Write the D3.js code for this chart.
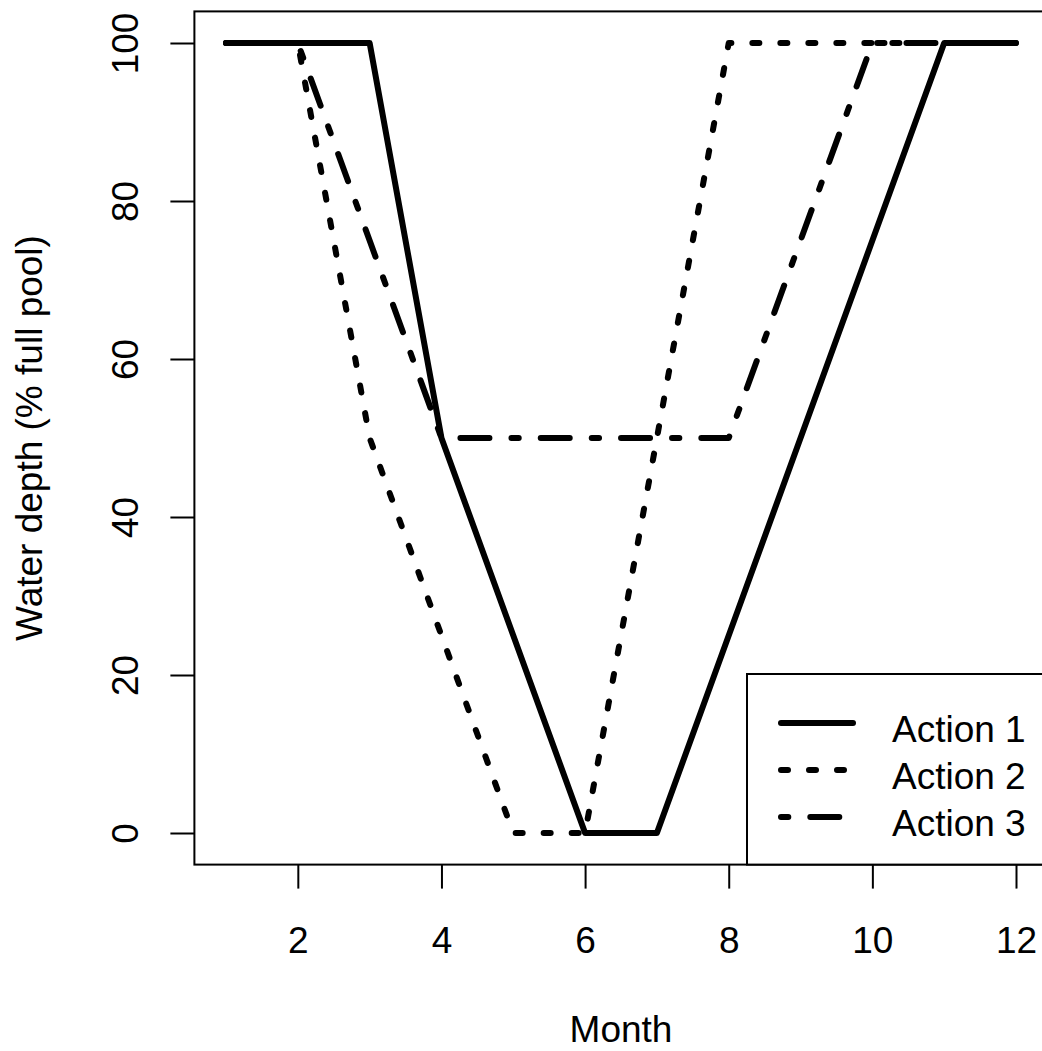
<!DOCTYPE html>
<html>
<head>
<meta charset="utf-8">
<script src="https://cdn.jsdelivr.net/npm/d3@7"></script>
<style>
  body { margin: 0; background: #fff; }
  text { font-family: "Liberation Sans", Arial, Helvetica, sans-serif; fill: #000; }
</style>
</head>
<body>
<div id="chart"></div>
<script>
// data
var months = [1, 2, 3, 4, 5, 6, 7, 8, 9, 10, 11, 12];
var action1 = [100, 100, 100, 50, 25, 0, 0, 25, 50, 75, 100, 100];
var action2 = [100, 100, 50, 25, 0, 0, 50, 100, 100, 100, 100, 100];
var action3 = [100, 100, 75, 50, 50, 50, 50, 50, 75, 100, 100, 100];
var seriesNames = ["Action 1", "Action 2", "Action 3"];
var xTicks = [2, 4, 6, 8, 10, 12];
var yTicks = [0, 20, 40, 60, 80, 100];

var width = 1042, height = 1051;
var fontSize = 37;

// plot region (R style, 4% padding on each side)
var box = {left: 194.4, right: 1047.6, top: 11.4, bottom: 864.6};

var x = d3.scaleLinear()
    .domain([1 - 0.44, 12 + 0.44])
    .range([box.left, box.right]);

var y = d3.scaleLinear()
    .domain([-4, 104])
    .range([box.bottom, box.top]);

var svg = d3.select("#chart").append("svg")
    .attr("width", width)
    .attr("height", height);

// line styles: solid, dotted, dot-dash
var dashes = [null, "7,21", "7.3,22,29,22"];
var seriesData = [action1, action2, action3];

var line = d3.line()
    .x(function(d) { return x(d[0]); })
    .y(function(d) { return y(d[1]); });

seriesData.forEach(function(vals, i) {
  svg.append("path")
    .datum(months.map(function(m, j) { return [m, vals[j]]; }))
    .attr("d", line)
    .attr("fill", "none")
    .attr("stroke", "#000")
    .attr("stroke-width", 6)
    .attr("stroke-linecap", "round")
    .attr("stroke-linejoin", "round")
    .attr("stroke-dasharray", dashes[i]);
});

// plot box
svg.append("rect")
    .attr("x", box.left)
    .attr("y", box.top)
    .attr("width", box.right - box.left)
    .attr("height", box.bottom - box.top)
    .attr("fill", "none")
    .attr("stroke", "#000")
    .attr("stroke-width", 2);

// x axis
var gx = svg.append("g")
    .attr("transform", "translate(0," + box.bottom + ")")
    .call(d3.axisBottom(x).tickValues(xTicks).tickSize(24).tickFormat(d3.format("d")));
gx.select(".domain").remove();
gx.selectAll(".tick line").attr("stroke", "#000").attr("stroke-width", 2);
gx.selectAll(".tick text")
    .attr("y", 88)
    .attr("dy", null)
    .attr("fill", "#000")
    .style("font-size", fontSize + "px");

// y axis
var gy = svg.append("g")
    .attr("transform", "translate(" + box.left + ",0)")
    .call(d3.axisLeft(y).tickValues(yTicks).tickSize(24).tickFormat(d3.format("d")));
gy.select(".domain").remove();
gy.selectAll(".tick line").attr("stroke", "#000").attr("stroke-width", 2);
gy.selectAll(".tick text")
    .attr("x", null)
    .attr("dy", null)
    .attr("text-anchor", "middle")
    .attr("transform", "translate(-56,0) rotate(-90)")
    .attr("fill", "#000")
    .style("font-size", fontSize + "px");

// axis titles
svg.append("text")
    .attr("x", (box.left + box.right) / 2)
    .attr("y", 1042)
    .attr("text-anchor", "middle")
    .style("font-size", fontSize + "px")
    .text("Month");

svg.append("text")
    .attr("transform", "translate(42," + (box.top + box.bottom) / 2 + ") rotate(-90)")
    .attr("text-anchor", "middle")
    .style("font-size", fontSize + "px")
    .text("Water depth (% full pool)");

// legend, bottom right
var legend = svg.append("g").attr("class", "legend");
legend.append("rect")
    .attr("x", 747)
    .attr("y", 674)
    .attr("width", box.right - 747)
    .attr("height", box.bottom - 674)
    .attr("fill", "#fff")
    .attr("stroke", "#000")
    .attr("stroke-width", 2);

var rowY = d3.scalePoint().domain(seriesNames).range([723, 817]);

seriesNames.forEach(function(name, i) {
  legend.append("line")
    .attr("x1", 781)
    .attr("x2", 853)
    .attr("y1", rowY(name))
    .attr("y2", rowY(name))
    .attr("stroke", "#000")
    .attr("stroke-width", 6)
    .attr("stroke-linecap", "round")
    .attr("stroke-dasharray", dashes[i]);
  legend.append("text")
    .attr("x", 892)
    .attr("y", rowY(name) + 19)
    .style("font-size", fontSize + "px")
    .text(name);
});
</script>
</body>
</html>
